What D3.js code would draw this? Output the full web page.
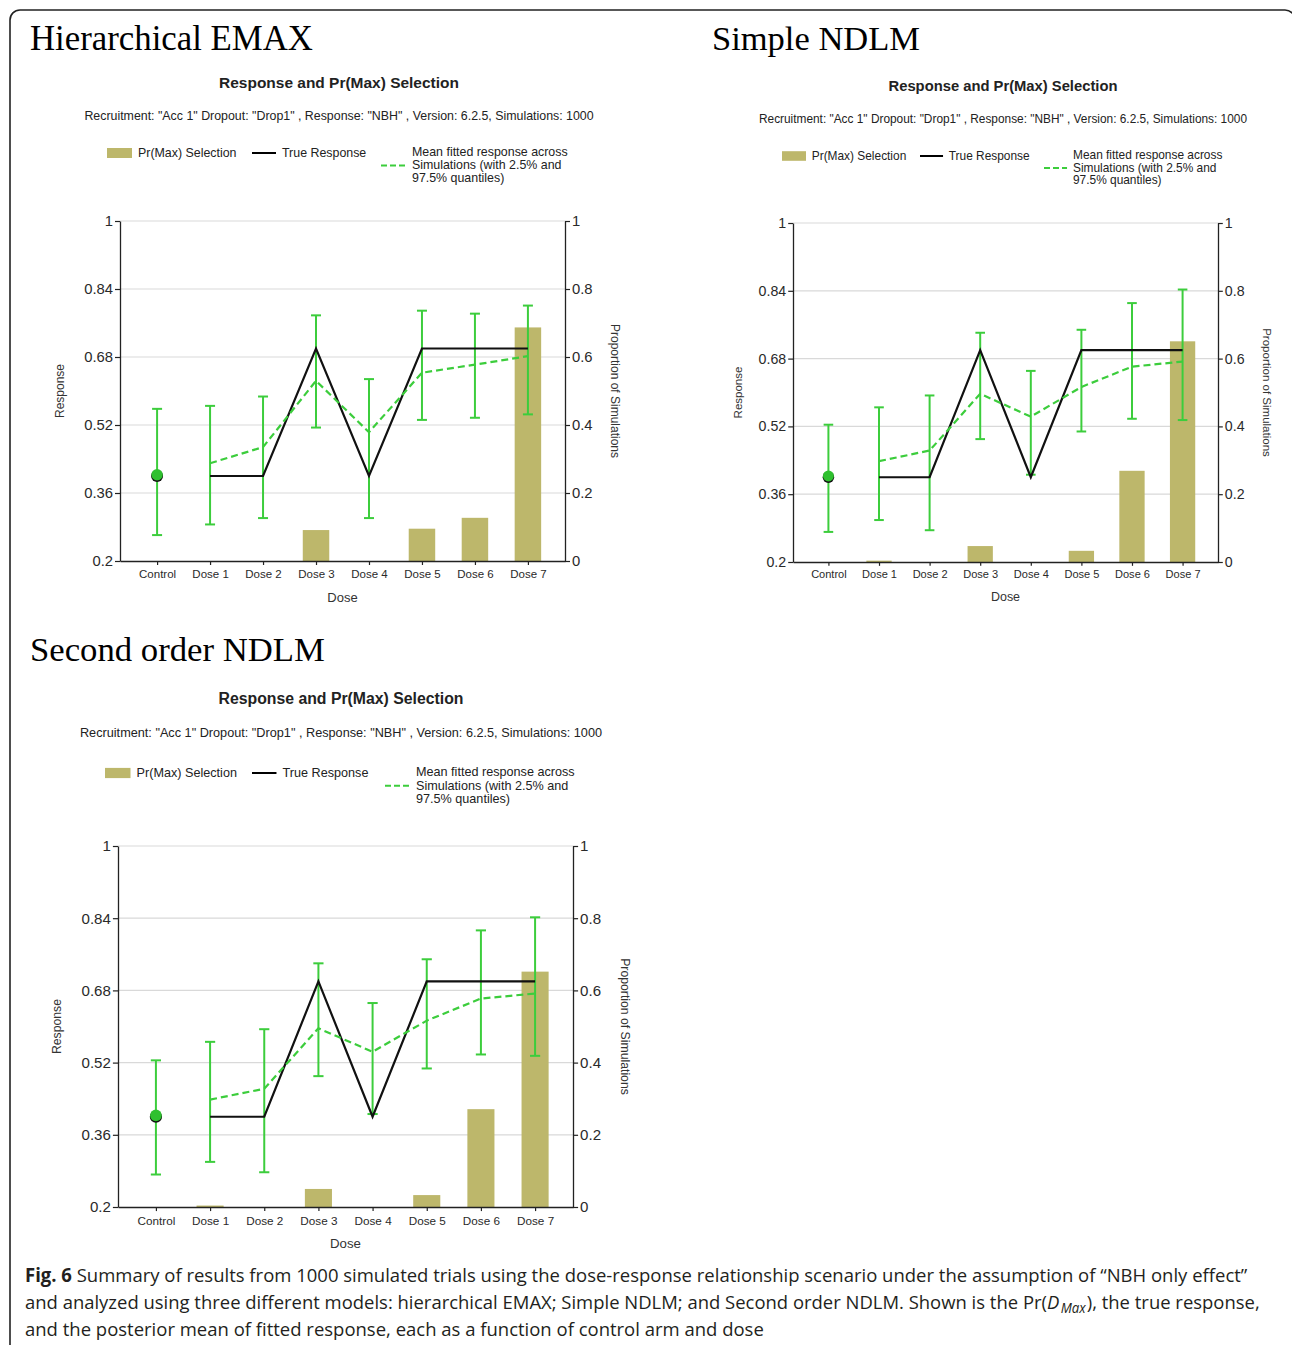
<!DOCTYPE html>
<html>
<head>
<meta charset="utf-8">
<script src="https://cdn.jsdelivr.net/npm/d3@7"></script>
<style>
  body { margin: 0; background: #fff; }
  svg { display: block; }
</style>
</head>
<body>
<svg id="fig" width="1292" height="1345"></svg>
<script>
// ---- data ----
const doses = ["Control", "Dose 1", "Dose 2", "Dose 3", "Dose 4", "Dose 5", "Dose 6", "Dose 7"];
const responseTicks = [0.2, 0.36, 0.52, 0.68, 0.84, 1];
const proportionTicks = [0, 0.2, 0.4, 0.6, 0.8, 1];
const trueResponse = [0.4, 0.4, 0.4, 0.7, 0.4, 0.7, 0.7, 0.7];

// Hierarchical EMAX
const emaxMean  = [0.403, 0.430, 0.468, 0.624, 0.503, 0.643, 0.662, 0.682];
const emaxLow   = [0.261, 0.286, 0.301, 0.514, 0.301, 0.532, 0.537, 0.545];
const emaxHigh  = [0.558, 0.565, 0.587, 0.778, 0.628, 0.789, 0.782, 0.801];
const emaxPrMax = [0, 0, 0, 0.091, 0, 0.095, 0.127, 0.687];

// Simple NDLM
const simpleMean  = [0.403, 0.438, 0.463, 0.597, 0.543, 0.613, 0.661, 0.673];
const simpleLow   = [0.271, 0.299, 0.275, 0.490, 0.406, 0.508, 0.538, 0.535];
const simpleHigh  = [0.524, 0.565, 0.593, 0.741, 0.651, 0.748, 0.811, 0.843];
const simplePrMax = [0, 0.004, 0, 0.047, 0, 0.033, 0.269, 0.651];

// Second order NDLM
const secondMean  = [0.403, 0.438, 0.462, 0.596, 0.544, 0.613, 0.662, 0.673];
const secondLow   = [0.272, 0.300, 0.277, 0.490, 0.406, 0.507, 0.538, 0.535];
const secondHigh  = [0.525, 0.566, 0.594, 0.740, 0.652, 0.749, 0.813, 0.842];
const secondPrMax = [0, 0.004, 0, 0.050, 0, 0.033, 0.271, 0.652];

const modelNames = ["Hierarchical EMAX", "Simple NDLM", "Second order NDLM"];
const chartTitle = "Response and Pr(Max) Selection";
const chartSubtitle = "Recruitment: \"Acc 1\" Dropout: \"Drop1\" , Response: \"NBH\" , Version: 6.2.5, Simulations: 1000";
const legendLabels = ["Pr(Max) Selection", "True Response",
  ["Mean fitted response across", "Simulations (with 2.5% and", "97.5% quantiles)"]];

const models = [
  { name: modelNames[0], mean: emaxMean, low: emaxLow, high: emaxHigh, prMax: emaxPrMax },
  { name: modelNames[1], mean: simpleMean, low: simpleLow, high: simpleHigh, prMax: simplePrMax },
  { name: modelNames[2], mean: secondMean, low: secondLow, high: secondHigh, prMax: secondPrMax }
];

// ---- layout of the three panels ----
const layout = [
  { px: 30, py: 50, pw: 283, cx: 339, tY: 83, tW: 240, sY: 116, sW: 510, lY: 153,
    sw: 107, ln: 252, ds: 381, tx: 412, l: 120, r: 565, t: 221, b: 561, respX: 60, propX: 615, k: 1 },
  { px: 712, py: 50, pw: 208, cx: 1003, tY: 86, tW: 229, sY: 119, sW: 488, lY: 156,
    sw: 782, ln: 920, ds: 1044, tx: 1073, l: 793, r: 1218, t: 223, b: 562, respX: 738, propX: 1267, k: 0.96 },
  { px: 30, py: 661, pw: 295, cx: 341, tY: 698, tW: 245, sY: 733, sW: 522, lY: 773,
    sw: 105, ln: 252, ds: 385, tx: 416, l: 118, r: 573, t: 846, b: 1207, respX: 57, propX: 625, k: 1.02 }
];

const GREEN = "#3ccd3c";
const KHAKI = "#bdb76b";
const GRID = "#d9d9d9";
const AXIS = "#222";
const SANS = "'Liberation Sans', Arial, sans-serif";

const svg = d3.select("#fig");

function fitWidth(sel, w) {
  const fs = parseFloat(sel.attr("font-size"));
  const cur = sel.node().getComputedTextLength();
  if (cur > 0) sel.attr("font-size", (fs * w / cur).toFixed(2));
}

// outer frame
svg.append("rect")
  .attr("x", 10).attr("y", 10).attr("width", 1285).attr("height", 1360)
  .attr("rx", 10).attr("ry", 10)
  .attr("fill", "none").attr("stroke", "#222").attr("stroke-width", 1.6);

models.forEach((m, i) => {
  const L = layout[i];
  const k = L.k;
  const g = svg.append("g");

  // model name
  const nm = g.append("text")
    .attr("x", L.px).attr("y", L.py)
    .attr("font-family", "'Liberation Serif', 'Times New Roman', serif")
    .attr("font-size", 34).attr("fill", "#000")
    .text(m.name);
  fitWidth(nm, L.pw);

  // chart title and subtitle
  const tt = g.append("text")
    .attr("x", L.cx).attr("y", L.tY).attr("dy", "0.35em")
    .attr("text-anchor", "middle").attr("font-family", SANS)
    .attr("font-weight", "bold").attr("font-size", 14).attr("fill", "#222")
    .text(chartTitle);
  fitWidth(tt, L.tW);
  const st = g.append("text")
    .attr("x", L.cx).attr("y", L.sY).attr("dy", "0.35em")
    .attr("text-anchor", "middle").attr("font-family", SANS)
    .attr("font-size", 12).attr("fill", "#222")
    .text(chartSubtitle);
  fitWidth(st, L.sW);

  // legend
  const lg = g.append("g").attr("font-family", SANS).attr("font-size", 12.4 * k).attr("fill", "#222");
  lg.append("rect").attr("x", L.sw).attr("y", L.lY - 5 * k)
    .attr("width", 25 * k).attr("height", 10 * k).attr("fill", KHAKI);
  lg.append("text").attr("x", L.sw + 31 * k).attr("y", L.lY).attr("dy", "0.35em").text(legendLabels[0]);
  lg.append("line").attr("x1", L.ln).attr("x2", L.ln + 24 * k).attr("y1", L.lY).attr("y2", L.lY)
    .attr("stroke", "#000").attr("stroke-width", 2);
  lg.append("text").attr("x", L.ln + 30 * k).attr("y", L.lY).attr("dy", "0.35em").text(legendLabels[1]);
  lg.append("line").attr("x1", L.ds).attr("x2", L.ds + 24 * k)
    .attr("y1", L.lY + 12.5 * k).attr("y2", L.lY + 12.5 * k)
    .attr("stroke", GREEN).attr("stroke-width", 2).attr("stroke-dasharray", "6,3");
  legendLabels[2].forEach((s, j) => {
    lg.append("text").attr("x", L.tx).attr("y", L.lY - 1 + j * 13 * k).attr("dy", "0.35em").text(s);
  });

  // scales
  const x = d3.scalePoint().domain(doses).range([L.l, L.r]).padding(0.7);
  const y = d3.scaleLinear().domain([0.2, 1]).range([L.b, L.t]);
  const yp = d3.scaleLinear().domain([0, 1]).range([L.b, L.t]);

  // gridlines
  g.append("g").selectAll("line").data(responseTicks.filter(d => d > 0.2)).join("line")
    .attr("x1", L.l).attr("x2", L.r)
    .attr("y1", d => y(d)).attr("y2", d => y(d))
    .attr("stroke", GRID).attr("stroke-width", 1.2);

  // Pr(Max) bars on the proportion axis
  const bw = x.step() * 0.5;
  g.append("g").selectAll("rect").data(doses.map((d, j) => ({ d, v: m.prMax[j] })).filter(o => o.v > 0))
    .join("rect")
    .attr("x", o => x(o.d) - bw / 2).attr("width", bw)
    .attr("y", o => yp(o.v)).attr("height", o => L.b - yp(o.v))
    .attr("fill", KHAKI);

  // axes
  const styleAxis = (ax, fs) => {
    ax.select(".domain").attr("stroke", AXIS).attr("stroke-width", 1.3);
    ax.selectAll(".tick line").attr("stroke", AXIS).attr("stroke-width", 1.2);
    ax.selectAll(".tick text").attr("fill", "#2a2a2a").attr("font-size", fs).attr("font-family", SANS);
  };
  const axL = g.append("g").attr("transform", `translate(${L.l},0)`)
    .call(d3.axisLeft(y).tickValues(responseTicks).tickFormat(d => String(d)).tickSize(5 * k).tickSizeOuter(0).tickPadding(2));
  styleAxis(axL, 14.8 * k);
  const axR = g.append("g").attr("transform", `translate(${L.r},0)`)
    .call(d3.axisRight(yp).tickValues(proportionTicks).tickFormat(d => String(d)).tickSize(5 * k).tickSizeOuter(0).tickPadding(2));
  styleAxis(axR, 14.8 * k);
  const axB = g.append("g").attr("transform", `translate(0,${L.b})`)
    .call(d3.axisBottom(x).tickSize(4 * k).tickSizeOuter(0).tickPadding(5 * k));
  styleAxis(axB, 11.5 * k);

  // axis titles
  g.append("text").attr("transform", `translate(${L.respX},${(L.t + L.b) / 2}) rotate(-90)`)
    .attr("text-anchor", "middle").attr("dy", "0.35em")
    .attr("font-family", SANS).attr("font-size", 12 * k).attr("fill", "#333").text("Response");
  g.append("text").attr("transform", `translate(${L.propX},${(L.t + L.b) / 2}) rotate(90)`)
    .attr("text-anchor", "middle").attr("dy", "0.35em")
    .attr("font-family", SANS).attr("font-size", 12 * k).attr("fill", "#333").text("Proportion of Simulations");
  g.append("text").attr("x", (L.l + L.r) / 2).attr("y", L.b + 36 * k).attr("dy", "0.35em")
    .attr("text-anchor", "middle").attr("font-family", SANS).attr("font-size", 13 * k)
    .attr("fill", "#333").text("Dose");

  // error bars (2.5% / 97.5% quantiles)
  const cap = 5 * k;
  const eb = g.append("g").attr("stroke", GREEN).attr("stroke-width", 2);
  doses.forEach((d, j) => {
    eb.append("line").attr("x1", x(d)).attr("x2", x(d)).attr("y1", y(m.low[j])).attr("y2", y(m.high[j]));
    eb.append("line").attr("x1", x(d) - cap).attr("x2", x(d) + cap).attr("y1", y(m.low[j])).attr("y2", y(m.low[j]));
    eb.append("line").attr("x1", x(d) - cap).attr("x2", x(d) + cap).attr("y1", y(m.high[j])).attr("y2", y(m.high[j]));
  });

  // true response and mean fitted response over the doses
  const idx = d3.range(1, doses.length);
  g.append("path").datum(idx)
    .attr("d", d3.line().x(j => x(doses[j])).y(j => y(trueResponse[j])))
    .attr("fill", "none").attr("stroke", "#111").attr("stroke-width", 2.2);
  g.append("path").datum(idx)
    .attr("d", d3.line().x(j => x(doses[j])).y(j => y(m.mean[j])))
    .attr("fill", "none").attr("stroke", GREEN).attr("stroke-width", 2.2).attr("stroke-dasharray", "7,4");

  // control arm markers
  g.append("circle").attr("cx", x(doses[0])).attr("cy", y(trueResponse[0])).attr("r", 6 * k).attr("fill", "#111");
  g.append("circle").attr("cx", x(doses[0])).attr("cy", y(m.mean[0])).attr("r", 5.7 * k).attr("fill", "#2fc02f");
});

// caption, set in a condensed measure
const CAP = "'Open Sans', 'Noto Sans', sans-serif";
const FS = 19;
const cap = svg.append("g").attr("font-family", CAP).attr("fill", "#231f20");
const c1 = cap.append("text").attr("x", 25).attr("y", 1282).attr("font-size", FS);
c1.append("tspan").attr("font-weight", "bold").text("Fig. 6");
c1.append("tspan").text(" Summary of results from 1000 simulated trials using the dose-response relationship scenario under the assumption of \u201cNBH only effect\u201d");
const c2 = cap.append("text").attr("x", 25).attr("y", 1309).attr("font-size", FS);
c2.append("tspan").text("and analyzed using three different models: hierarchical EMAX; Simple NDLM; and Second order NDLM. Shown is the Pr(");
c2.append("tspan").attr("font-style", "italic").text("D");
c2.append("tspan").attr("font-style", "italic").attr("font-size", FS * 0.72).attr("dx", 1.5).attr("dy", 4).text("Max");
c2.append("tspan").attr("dx", 1).attr("dy", -4).text("), the true response,");
const c3 = cap.append("text").attr("x", 25).attr("y", 1336).attr("font-size", FS)
  .text("and the posterior mean of fitted response, each as a function of control arm and dose");

const lens = [c1, c2, c3].map(c => c.node().getComputedTextLength());
const squeeze = (1220 + 1237) / (lens[0] + lens[1]);
[c1, c2, c3].forEach((c, j) => {
  c.attr("textLength", (lens[j] * squeeze).toFixed(1)).attr("lengthAdjust", "spacingAndGlyphs");
});
</script>
</body>
</html>
